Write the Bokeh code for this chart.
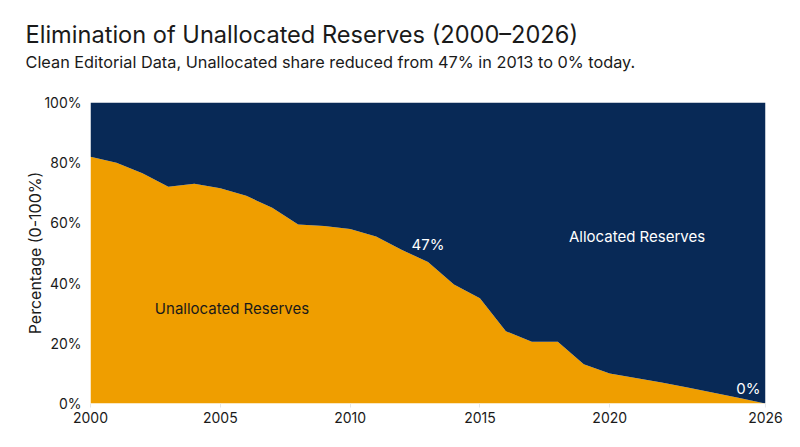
from bokeh.plotting import figure
from bokeh.models import Title, Label, FixedTicker, PrintfTickFormatter, ColumnDataSource
from bokeh.embed import file_html
from bokeh.resources import INLINE

# ---- data ----
years = [2000, 2001, 2002, 2003, 2004, 2005, 2006, 2007, 2008, 2009, 2010, 2011, 2012,
         2013, 2014, 2015, 2016, 2017, 2018, 2019, 2020, 2021, 2022, 2023, 2024, 2025, 2026]
unallocated = [82, 80, 76.5, 72, 73, 71.5, 69, 65, 59.5, 59, 58, 55.5, 51,
               47, 39.5, 35, 24, 20.5, 20.5, 13, 10, 8.5, 7, 5.3, 3.6, 1.8, 0]
x_ticks = [2000, 2005, 2010, 2015, 2020, 2026]
y_ticks = [0, 20, 40, 60, 80, 100]

title_text = "Elimination of Unallocated Reserves (2000\u20132026)"
subtitle_text = "Clean Editorial Data, Unallocated share reduced from 47% in 2013 to 0% today."
y_label = "Percentage (0-100%)"
series_labels = ["Unallocated Reserves", "Allocated Reserves"]

ORANGE = "#EF9E00"
NAVY = "#082956"
FONT = "Inter"
TXT = "#1a1a1a"

src = ColumnDataSource(dict(
    year=years,
    unalloc=unallocated,
    zero=[0] * len(years),
    full=[100] * len(years),
))

p = figure(width=800, height=447, x_range=(2000, 2026), y_range=(0, 100),
           output_backend="svg", toolbar_location=None, title=None,
           min_border_left=90, min_border_right=35, min_border_bottom=44, min_border_top=0)
p.outline_line_color = None
p.background_fill_color = "white"
p.border_fill_color = "white"

p.varea(x="year", y1="zero", y2="unalloc", source=src, fill_color=ORANGE)
p.varea(x="year", y1="unalloc", y2="full", source=src, fill_color=NAVY)

p.grid.visible = False

# axes
p.xaxis.ticker = FixedTicker(ticks=x_ticks)
p.yaxis.ticker = FixedTicker(ticks=y_ticks)
p.yaxis.formatter = PrintfTickFormatter(format="%d%%")
for ax in (p.xaxis, p.yaxis):
    ax.axis_line_color = None
    ax.minor_tick_line_color = None
    ax.major_label_text_font = FONT
    ax.major_label_text_font_size = "14px"
    ax.major_label_text_color = TXT
p.xaxis.major_tick_line_color = "#e6e6e6"
p.xaxis.major_tick_in = 0
p.xaxis.major_tick_out = 4
p.xaxis.major_label_standoff = 4
p.yaxis.major_tick_line_color = None
p.yaxis.major_tick_in = 0
p.yaxis.major_tick_out = 0
p.yaxis.major_label_standoff = 9
p.yaxis.axis_label = y_label
p.yaxis.axis_label_text_font = FONT
p.yaxis.axis_label_text_font_size = "16px"
p.yaxis.axis_label_text_font_style = "normal"
p.yaxis.axis_label_text_color = TXT
p.yaxis.axis_label_standoff = -4

# titles stacked above the frame (closest first); blank titles act as spacers
gap_below = Title(text=" ", text_font=FONT, text_font_size="10px", standoff=16)
sub = Title(text=subtitle_text, align="left", text_font=FONT, text_font_size="16.3px",
            text_font_style="normal", text_color=TXT, offset=-65, standoff=2)
main = Title(text=title_text, align="left", text_font=FONT, text_font_size="23.6px",
             text_font_style="normal", text_color=TXT, offset=-65, standoff=0)
gap_above = Title(text=" ", text_font=FONT, text_font_size="10px", standoff=2.5)
for t in (gap_below, sub, main, gap_above):
    p.add_layout(t, "above")

# annotations
p.add_layout(Label(x=2005.45, y=31.5, text=series_labels[0], text_align="center",
                   text_baseline="middle", text_font=FONT, text_font_size="15px",
                   text_color=TXT))
p.add_layout(Label(x=2021.05, y=55.6, text=series_labels[1], text_align="center",
                   text_baseline="middle", text_font=FONT, text_font_size="15px",
                   text_color="white"))
i47 = years.index(2013)
p.add_layout(Label(x=years[i47], y=unallocated[i47], text=f"{unallocated[i47]:g}%",
                   text_align="center", text_baseline="middle", y_offset=18,
                   text_font=FONT, text_font_size="15px", text_color="white"))
p.add_layout(Label(x=years[-1], y=unallocated[-1], text=f"{unallocated[-1]:g}%",
                   text_align="right", text_baseline="middle", x_offset=-5, y_offset=15,
                   text_font=FONT, text_font_size="15px", text_color="white"))

open("out.html", "w").write(file_html(p, INLINE))
